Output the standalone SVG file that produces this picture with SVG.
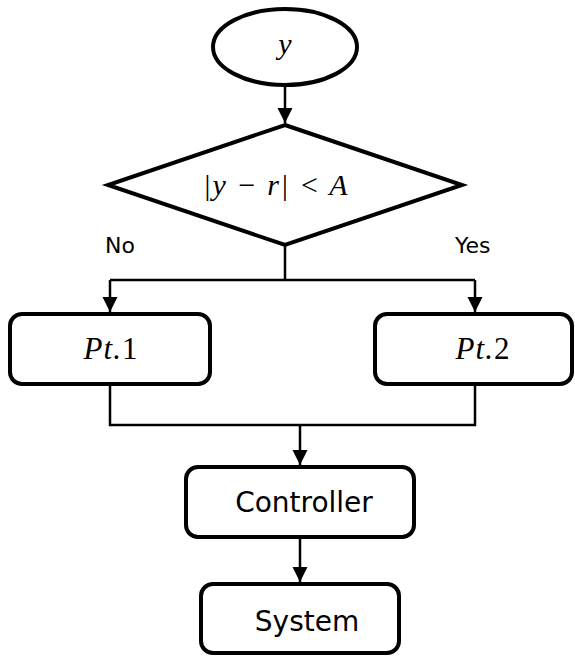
<svg xmlns="http://www.w3.org/2000/svg" width="575" height="657" viewBox="0 0 575 657">
<style>
.shape{fill:#fff;stroke:#000;stroke-width:4}
.conn{fill:none;stroke:#000;stroke-width:2.5}
.math{font-family:"Liberation Serif","DejaVu Serif",serif;font-style:italic;fill:#000}
.num{font-family:"Liberation Serif","DejaVu Serif",serif;font-style:normal}
.lbl{font-family:"DejaVu Sans","Liberation Sans",sans-serif;fill:#000}
</style>
<defs>
<marker id="arr" markerUnits="userSpaceOnUse" markerWidth="16" markerHeight="16" refX="15" refY="7.5" orient="auto">
<path d="M0,0 L15,7.5 L0,15 z" fill="#000"/>
</marker>
</defs>
<g id="connectors">
<path class="conn" d="M285,86 L285,123" marker-end="url(#arr)"/>
<path class="conn" d="M285,245 L285,280 M110,280 L475,280"/>
<path class="conn" d="M110,280 L110,312" marker-end="url(#arr)"/>
<path class="conn" d="M475,280 L475,312" marker-end="url(#arr)"/>
<path class="conn" d="M110,384 L110,425 L475,425 L475,384"/>
<path class="conn" d="M300,425 L300,465" marker-end="url(#arr)"/>
<path class="conn" d="M300,538 L300,582" marker-end="url(#arr)"/>
</g>
<g id="node-y">
<ellipse class="shape" cx="285" cy="47" rx="72" ry="38"/>
<text class="math" x="285" y="54" font-size="30" text-anchor="middle">y</text>
</g>
<g id="node-decision">
<polygon class="shape" points="285,125 462,185 285,245 108,185"/>
<text class="math" x="276" y="195" font-size="30" letter-spacing="1.5" text-anchor="middle">|y − r| &lt; A</text>
</g>
<g id="label-no"><text class="lbl" x="105" y="253" font-size="22">No</text></g>
<g id="label-yes"><text class="lbl" x="455" y="253" font-size="22">Yes</text></g>
<g id="node-pt1">
<rect class="shape" x="10" y="314" width="200" height="70" rx="12"/>
<text class="math" x="111" y="359" font-size="31" letter-spacing="1" text-anchor="middle">Pt.<tspan class="num">1</tspan></text>
</g>
<g id="node-pt2">
<rect class="shape" x="375" y="314" width="197" height="70" rx="12"/>
<text class="math" x="483" y="359" font-size="31" letter-spacing="1" text-anchor="middle">Pt.<tspan class="num">2</tspan></text>
</g>
<g id="node-controller">
<rect class="shape" x="186" y="467" width="228" height="70" rx="12"/>
<text class="lbl" x="304" y="512" font-size="28" text-anchor="middle">Controller</text>
</g>
<g id="node-system">
<rect class="shape" x="201" y="584" width="198" height="69" rx="12"/>
<text class="lbl" x="307" y="631" font-size="28" text-anchor="middle">System</text>
</g>
</svg>
